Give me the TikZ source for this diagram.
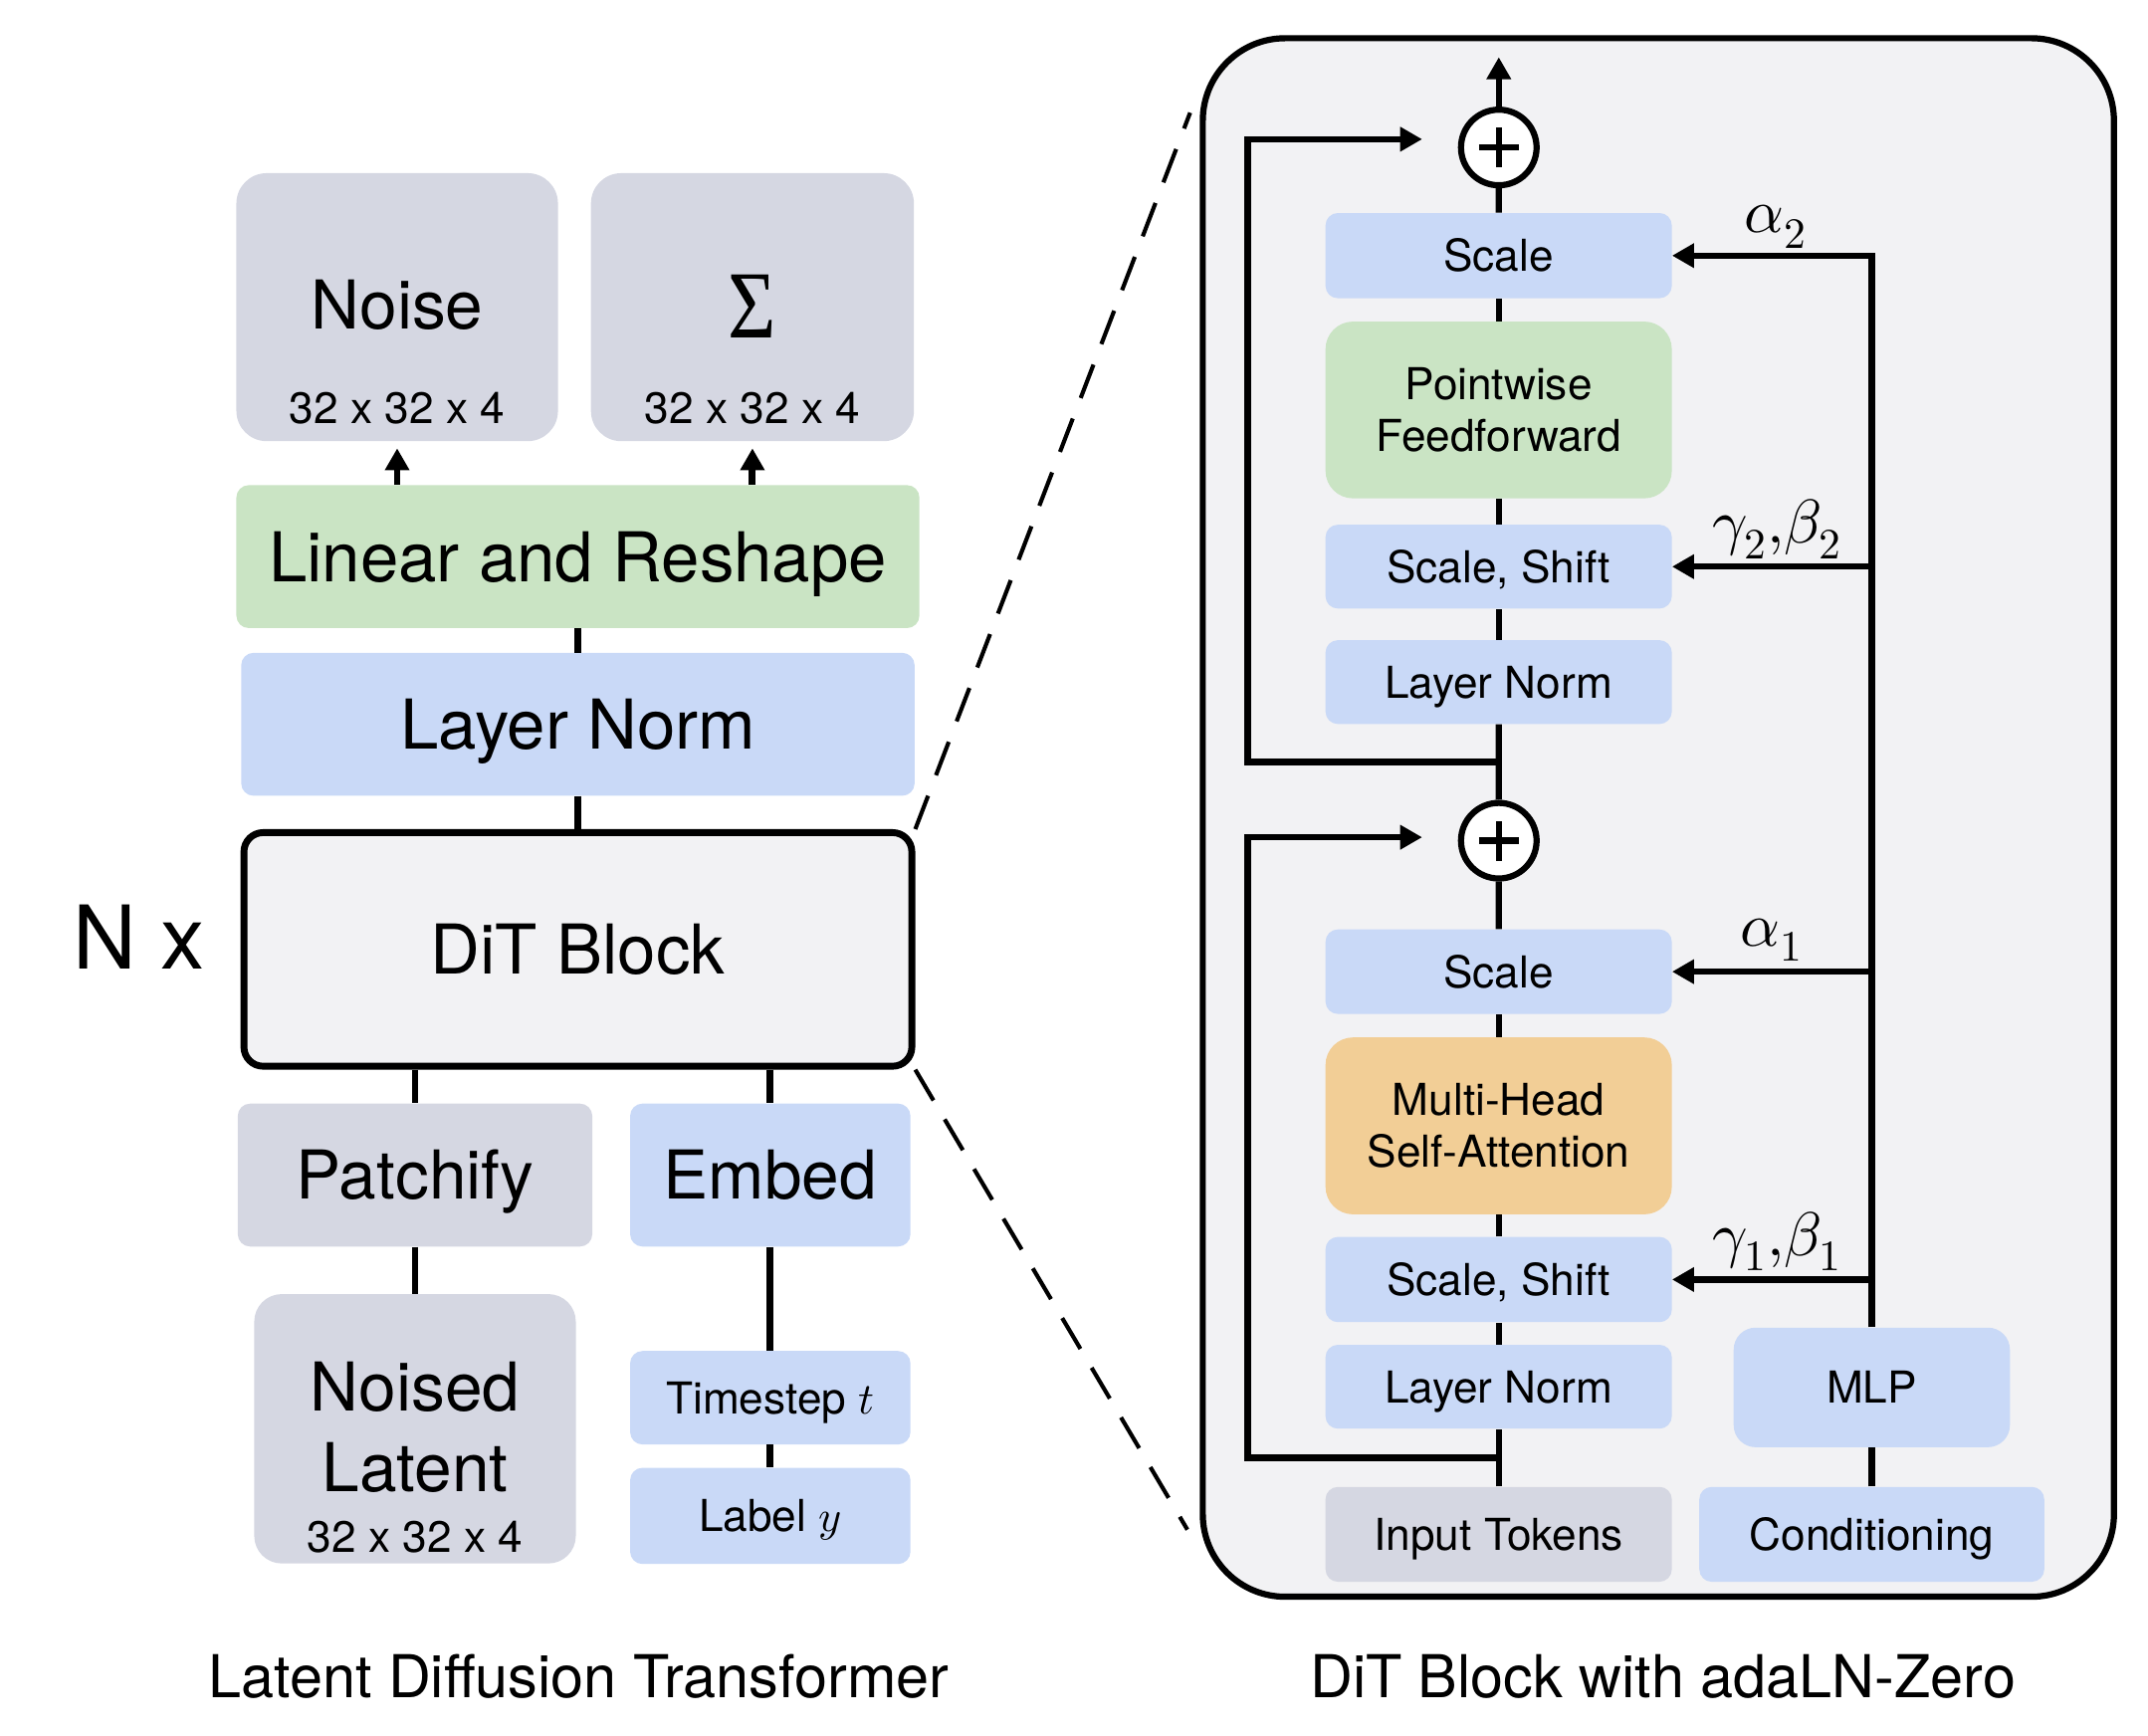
\documentclass[tikz,border=0pt]{standalone}
\usepackage{fontspec}
\usepackage{unicode-math}
\usepackage{graphicx}
\setmainfont{TeX Gyre Heros}
\setmathfont{Latin Modern Math}
\newfontfamily\sigfont{Liberation Serif}
\usetikzlibrary{arrows.meta,calc}
\definecolor{grayc}{RGB}{213,215,226}
\definecolor{bluec}{RGB}{201,217,247}
\definecolor{greenc}{RGB}{202,228,196}
\definecolor{orangec}{RGB}{242,206,150}
\definecolor{panelc}{RGB}{242,242,244}
\newcommand{\fsz}[1]{\fontsize{#1}{#1}\selectfont}
\begin{document}
\begin{tikzpicture}[x=1pt,y=1pt,
  bx/.style={rectangle, inner sep=0pt, rounded corners=9pt},
  gbx/.style={bx, fill=grayc},
  bbx/.style={bx, fill=bluec},
  conn/.style={line width=5pt},
  connR/.style={line width=4.5pt},
  arr/.style={-{Triangle[length=16pt,width=17pt]}},
  dashc/.style={line width=3pt, dash pattern=on 26pt off 16pt},
  f49/.style={font=\fsz{49}, text height=35.3pt, text depth=0pt},
  f50/.style={font=\fsz{50}, text height=36pt, text depth=0pt},
  f64/.style={font=\fsz{64}, text height=46pt, text depth=0pt},
  f32/.style={font=\fsz{32}, text height=23pt, text depth=0pt},
  f43/.style={font=\fsz{43}, text height=31pt, text depth=0pt},
  mth/.style={font=\fsz{45}},
  two/.style={align=center, font=\fontsize{32}{37.5}\selectfont},
  plusc/.style={circle, draw, line width=4.5pt, fill=white, minimum size=55pt, inner sep=0pt}
]
\useasboundingbox (0,0) rectangle (1563,-1263);

% ---------------- left: latent diffusion transformer ----------------
\node[gbx, rounded corners=22pt, minimum width=234pt, minimum height=195pt] (noise) at (289,-223.5) {};
\node[f49] (noiseT) at (289,-222) {Noise};
\node[f32] (noiseD) at (289,-297) {32 x 32 x 4};
\node[gbx, rounded corners=22pt, minimum width=235pt, minimum height=195pt] (sigma) at (547.5,-223.5) {};
\node[inner sep=0pt] (sigmaT) at (547.5,-223) {\fsz{70}\scalebox{0.86}[1]{\sigfont Σ}};
\node[f32] (sigmaD) at (547.5,-297) {32 x 32 x 4};

\node[bx, fill=greenc, minimum width=497pt, minimum height=104pt, f50] (linear) at (420.5,-405) {Linear and Reshape};
\node[bbx, minimum width=490pt, minimum height=104pt, f50] (lnL) at (420.5,-527) {Layer Norm};
\node[draw, line width=5pt, fill=panelc, rounded corners=14pt, minimum width=486pt, minimum height=170pt, f50] (dit) at (420.5,-690.8) {DiT Block};
\node[f64] (nx) at (101,-682) {N x};

\node[gbx, minimum width=258pt, minimum height=104pt, f49] (patch) at (302,-855) {Patchify};
\node[bbx, minimum width=204pt, minimum height=104pt, f49] (embed) at (560.5,-855) {Embed};

\node[gbx, rounded corners=20pt, minimum width=234pt, minimum height=196pt] (latent) at (302,-1039.6) {};
\node[f49] (latT1) at (302,-1009) {Noised};
\node[f49] (latT2) at (302,-1068) {Latent};
\node[f32] (latD) at (302,-1117.7) {32 x 32 x 4};

\node[bbx, minimum width=204pt, minimum height=68pt, f32] (tstep) at (560.5,-1017) {Timestep $t$};
\node[bbx, minimum width=204pt, minimum height=70pt, f32] (label) at (560.5,-1103) {Label $y$};

\node[f43] (capL) at (421,-1219.5) {Latent Diffusion Transformer};

\draw[conn, arr] (linear.north -| noise.south) -- ([yshift=-5pt]noise.south);
\draw[conn, arr] (linear.north -| sigma.south) -- ([yshift=-5pt]sigma.south);
\draw[conn] (linear.south) -- (lnL.north);
\draw[conn] (lnL.south) -- (dit.north);
\draw[conn] (dit.south -| patch.north) -- (patch.north);
\draw[conn] (dit.south -| embed.north) -- (embed.north);
\draw[conn] (patch.south) -- (patch.south |- latent.north);
\draw[conn] (embed.south) -- (tstep.north);
\draw[conn] (tstep.south) -- (label.north);

\coordinate (dU) at (866,-82);
\coordinate (dD) at (864,-1113);
\draw[dashc] (dit.north east) -- (dU);
\draw[dashc] (dit.south east) -- (dD);

% ---------------- right: DiT block with adaLN-Zero ----------------
\node[draw, line width=4.5pt, fill=panelc, rounded corners=60pt, minimum width=663pt, minimum height=1134pt] (panel) at (1206.7,-594.8) {};

\node[plusc] (plus2) at (1090.6,-107.3) {};
\node[plusc] (plus1) at (1090.6,-611.7) {};
\draw[connR] ([xshift=-14.5pt]plus2.center) -- ([xshift=14.5pt]plus2.center);
\draw[connR] ([yshift=-14.5pt]plus2.center) -- ([yshift=14.5pt]plus2.center);
\draw[connR] ([xshift=-14.5pt]plus1.center) -- ([xshift=14.5pt]plus1.center);
\draw[connR] ([yshift=-14.5pt]plus1.center) -- ([yshift=14.5pt]plus1.center);

\node[bbx, minimum width=252pt, minimum height=62pt, f32] (scale2) at (1090.5,-186) {Scale};
\node[bx, fill=greenc, rounded corners=20pt, minimum width=252pt, minimum height=128.6pt, two] (ff) at (1090.5,-298.3) {Pointwise\\Feedforward};
\node[bbx, minimum width=252pt, minimum height=61pt, f32] (ss2) at (1090.5,-412.3) {Scale, Shift};
\node[bbx, minimum width=252pt, minimum height=61pt, f32] (ln2) at (1090.5,-496.3) {Layer Norm};
\node[bbx, minimum width=252pt, minimum height=61.5pt, f32] (scale1) at (1090.5,-707) {Scale};
\node[bx, fill=orangec, rounded corners=20pt, minimum width=252pt, minimum height=128.7pt, two] (mhsa) at (1090.5,-819.2) {Multi-Head\\Self-Attention};
\node[bbx, minimum width=252pt, minimum height=62pt, f32] (ss1) at (1090.5,-931) {Scale, Shift};
\node[bbx, minimum width=252pt, minimum height=61pt, f32] (ln1) at (1090.5,-1009) {Layer Norm};
\node[gbx, minimum width=252pt, minimum height=69pt, f32] (input) at (1090.5,-1116.4) {Input Tokens};
\node[bbx, rounded corners=16pt, minimum width=201pt, minimum height=87pt, f32] (mlp) at (1362,-1009.5) {MLP};
\node[bbx, minimum width=251pt, minimum height=69pt, f32] (cond) at (1362,-1116.4) {Conditioning};

\node[mth] (la2) at (1292,-165) {$\alpha_2$};
\node[mth] (lgb2) at (1293,-385) {$\gamma_2{,}\beta_2$};
\node[mth] (la1) at (1289,-684) {$\alpha_1$};
\node[mth] (lgb1) at (1293,-903) {$\gamma_1{,}\beta_1$};

\node[f43] (capR) at (1210,-1219.5) {DiT Block with adaLN-Zero};

% main stream
\draw[connR] (input.north) -- (ln1.south);
\draw[connR] (ln1.north) -- (ss1.south);
\draw[connR] (ss1.north) -- (mhsa.south);
\draw[connR] (mhsa.north) -- (scale1.south);
\draw[connR] (scale1.north) -- (plus1.south);
\draw[connR] (plus1.north) -- (ln2.south);
\draw[connR] (ln2.north) -- (ss2.south);
\draw[connR] (ss2.north) -- (ff.south);
\draw[connR] (ff.north) -- (scale2.south);
\draw[connR] (scale2.north) -- (plus2.south);
\coordinate (outTip) at (1090.6,-41.6);
\draw[connR, arr] (plus2.north) -- (outTip);

% residual connections
\coordinate (r1) at ($(input.north)!0.5!(ln1.south)$);
\coordinate (r2) at ($(ln2.south)!0.5!(plus1.north)$);
\draw[connR, arr] (r1) -- ++(-182.6,0) |- ([xshift=-26pt,yshift=2.5pt]plus1.west);
\draw[connR, arr] (r2) -- ++(-182.6,0) |- ([xshift=-26pt,yshift=6pt]plus2.west);

% conditioning
\draw[connR] (cond.north) -- (mlp.south);
\draw[connR, arr] (mlp.north) -- (mlp.north |- scale2.east) -- (scale2.east);
\draw[connR, arr] (mlp.north |- ss2.east) -- (ss2.east);
\draw[connR, arr] (mlp.north |- scale1.east) -- (scale1.east);
\draw[connR, arr] (mlp.north |- ss1.east) -- (ss1.east);
\end{tikzpicture}
\end{document}
